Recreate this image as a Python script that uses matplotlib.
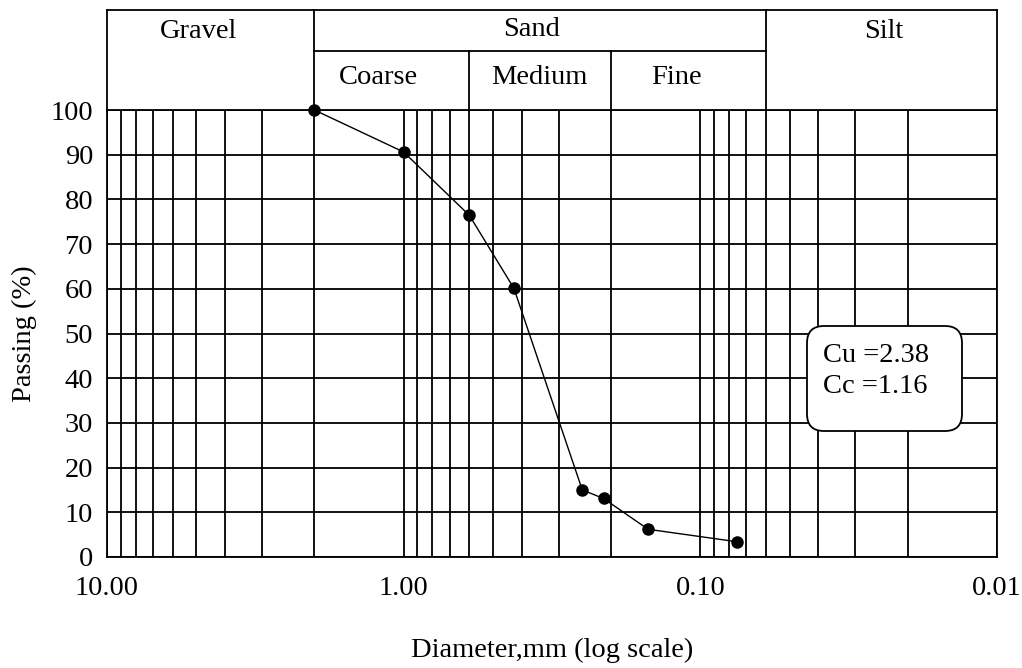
import numpy as np
import matplotlib.pyplot as plt
from matplotlib.patches import FancyBboxPatch
from matplotlib.ticker import LogLocator, NullFormatter

# sieve analysis results
tamices = [2.0, 1.0, 0.6, 0.425, 0.25, 0.212, 0.15, 0.075]   # mm
pasa = [100, 90.6, 76.4, 60.1, 15.0, 13.1, 6.2, 3.4]          # % passing

# soil classification limits (mm)
limites = [10.0, 2.0, 0.06, 0.01]
limites_arena = [2.0, 0.6, 0.2, 0.06]
clases = ["Gravel", "Sand", "Silt"]
sub_arena = ["Coarse", "Medium", "Fine"]

cu = 2.38
cc = 1.16

plt.rcParams['font.family'] = ['Liberation Serif', 'DejaVu Serif']
fs = 20.5

fig = plt.figure(figsize=(10.22, 6.68), dpi=100)
ax = fig.add_axes([107/1022, 111/668, 890/1022, 447/668])

ax.set_xscale('log')
ax.set_xlim(10, 0.01)
ax.set_ylim(0, 100)

ax.xaxis.set_major_locator(LogLocator(base=10, subs=(1.0,)))
ax.xaxis.set_minor_locator(LogLocator(base=10, subs=np.arange(2, 10)))
ax.xaxis.set_minor_formatter(NullFormatter())
ax.set_xticks([10, 1, 0.1, 0.01])
ax.set_xticklabels(["10.00", "1.00", "0.10", "0.01"])
ax.set_yticks(np.arange(0, 101, 10))

ax.grid(True, which='both', axis='x', color='black', lw=1.3)
ax.grid(True, which='major', axis='y', color='black', lw=1.3)
ax.tick_params(which='both', length=0, labelsize=fs)
ax.tick_params(axis='x', pad=14)
ax.tick_params(axis='y', pad=10)
for s in ax.spines.values():
    s.set_color('black')
    s.set_linewidth(1.3)

ax.plot(tamices, pasa, color='black', lw=1, marker='o', ms=8, zorder=5, clip_on=False)

ax.set_xlabel("Diameter,mm (log scale)", fontsize=fs, labelpad=26)
ax.set_ylabel("Passing (%)", fontsize=fs, labelpad=10)

# classification header above the plot
tr = ax.get_xaxis_transform()
y_top = (557 - 10) / 447
y_mid = (557 - 51) / 447
kw = dict(color='black', lw=1.3, transform=tr, clip_on=False)
for x in limites:
    ax.plot([x, x], [1, y_top], **kw)
ax.plot([limites[0], limites[-1]], [y_top, y_top], **kw)
ax.plot([limites_arena[0], limites_arena[-1]], [y_mid, y_mid], **kw)
for x in limites_arena[1:-1]:
    ax.plot([x, x], [1, y_mid], **kw)

pos_clases = [4.9, 0.37, 0.024]
y_clases = [32, 29, 32]
for x, yp, t in zip(pos_clases, y_clases, clases):
    ax.text(x, (557 - yp) / 447, t, transform=tr, ha='center', va='center', fontsize=fs)
pos_sub = [1.22, 0.35, 0.12]
for x, t in zip(pos_sub, sub_arena):
    ax.text(x, (557 - 78) / 447, t, transform=tr, ha='center', va='center', fontsize=fs)

# Cu / Cc box (in inches so the corners stay round)
caja = FancyBboxPatch((8.07, 2.37), 1.55, 1.05,
                      boxstyle='round,pad=0,rounding_size=0.17', transform=fig.dpi_scale_trans,
                      fc='white', ec='black', lw=1.3, zorder=6)
ax.add_patch(caja)
ax.text(0.8045, 0.416, "Cu =%.2f\nCc =%.2f" % (cu, cc), transform=ax.transAxes,
        fontsize=fs, ha='left', va='center', linespacing=1.28, zorder=7)

plt.savefig("out.png", dpi=100)
